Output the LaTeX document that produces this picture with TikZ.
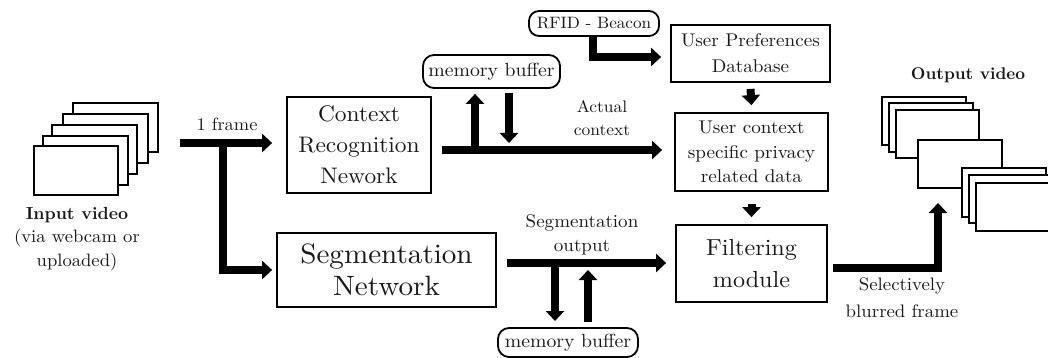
\documentclass[tikz,border=0pt]{standalone}
\usepackage{fontspec}
\setmainfont{lmroman10-regular.otf}[FakeStretch=1.04]
\newfontfamily\boldfam{lmroman10-bold.otf}
\usetikzlibrary{arrows.meta,calc}
\newcommand\myfs[2]{\fontsize{#1}{#2}\selectfont}
\tikzset{
  fat/.style={line width=8pt, line join=miter, -{Triangle[width=18pt,length=10pt]}},
  box/.style={draw, line width=1.8pt, inner sep=0pt, align=center, text=black!90},
  buf/.style={draw, line width=1.8pt, rounded corners=11pt, inner sep=0pt, text=black!90},
  frm/.style={draw, line width=1.8pt, fill=white},
  lbl/.style={align=center, text=black!90, inner sep=0pt},
}
\begin{document}
\begin{tikzpicture}[x=1pt,y=-1pt]
\useasboundingbox (0,0) rectangle (1048,358);
\clip (0,0) rectangle (1048,358);

% input video stack
\draw[frm] (73,103) rectangle (158,152);
\draw[frm] (63,114) rectangle (148,163);
\draw[frm] (52,125) rectangle (137,174);
\draw[frm] (43,136) rectangle (128,185);
\draw[frm] (34,146) rectangle (118,195);
\node[lbl, font=\myfs{17.9}{23.5}] (inlbl) at (77,239) {{\boldfam\myfs{17.5}{23.5}Input video}\\(via webcam or\\uploaded)};

% output video stack
\draw[frm] (882,97) rectangle (966,145);
\draw[frm] (889,103) rectangle (973,152);
\draw[frm] (896,110) rectangle (979,158);
\draw[frm] (918,140) rectangle (1002,188);
\draw[frm] (962,168) rectangle (1046,217);
\draw[frm] (969,175) rectangle (1053,223);
\draw[frm] (976,183) rectangle (1060,231);
\node[lbl, font=\myfs{17}{22}\boldfam] (outlbl) at (968,75) {Output video};

% boxes
\node[box, minimum width=144pt, minimum height=96pt, font=\myfs{22.5}{31}] (ctx) at (359,145) {Context\\Recognition\\Nework};
\node[box, minimum width=219pt, minimum height=74pt, font=\myfs{28}{32}] (seg) at (386.5,270) {Segmentation\\Network};
\node[box, minimum width=159pt, minimum height=57pt, font=\myfs{18.4}{26}] (upref) at (750.5,53.5) {User Preferences\\Database};
\node[box, minimum width=153pt, minimum height=78pt, font=\myfs{18.4}{24.5}] (uctx) at (751.5,152) {User context\\specific privacy\\related data};
\node[box, minimum width=151pt, minimum height=77pt, font=\myfs{23.2}{32}] (filt) at (751.5,263.5) {Filtering\\module};
\node[buf, minimum width=137pt, minimum height=33pt, font=\myfs{19}{22}] (mb1) at (491.5,71.5) {memory buffer};
\node[buf, minimum width=140pt, minimum height=29pt, font=\myfs{19}{22}] (mb2) at (568,342.5) {memory buffer};
\node[buf, rounded corners=10pt, minimum width=130pt, minimum height=25pt, font=\myfs{16.5}{20}] (rfid) at (594,23.5) {RFID - Beacon};

% labels
\node[lbl, font=\myfs{17.7}{22}] (l1) at (227,124) {1 frame};
\node[lbl, font=\myfs{16.8}{23}] (l2) at (602,118) {Actual\\context};
\node[lbl, font=\myfs{18.3}{24}] (l3) at (582,235) {Segmentation\\output};
\node[lbl, font=\myfs{18.1}{27}] (l4) at (902,298) {Selectively\\blurred frame};

% coordinates
\coordinate (fs) at (180,143);
\coordinate (fb) at (223,139);
\coordinate (ca) at (442,150);
\coordinate (u1) at (475,146);
\coordinate (d1) at (509,93);
\coordinate (so) at (507,263);
\coordinate (d2) at (555,267);
\coordinate (u2) at (588,322);
\coordinate (rb) at (593,36);
\coordinate (rc) at (593,57);
\coordinate (oc) at (833,268);
\coordinate (ot) at (938,203);

% connectors
\draw[fat, shorten >=14pt] (fs) -- (fs -| ctx.west);
\draw[fat, shorten >=4pt] (fb) |- (seg.west);
\draw[fat, shorten >=12pt] (ca) -- (ca -| uctx.west);
\draw[fat, shorten >=5pt] (u1) -- (u1 |- mb1.south);
\draw[fat] (d1) -- ++(0,50);
\draw[fat, shorten >=9pt] (so) -- (so -| filt.west);
\draw[fat] (d2) -- ++(0,54);
\draw[fat] (u2) -- ++(0,-52);
\draw[fat, shorten >=9pt] (rb) |- (rc -| upref.west);
\draw[fat] ([yshift=-6pt]upref.south) -- ([yshift=7pt]uctx.north);
\draw[fat] ([yshift=-12pt]uctx.south) -- ([yshift=7pt]filt.north);
\draw[fat] (oc) -| (ot);
\end{tikzpicture}
\end{document}
